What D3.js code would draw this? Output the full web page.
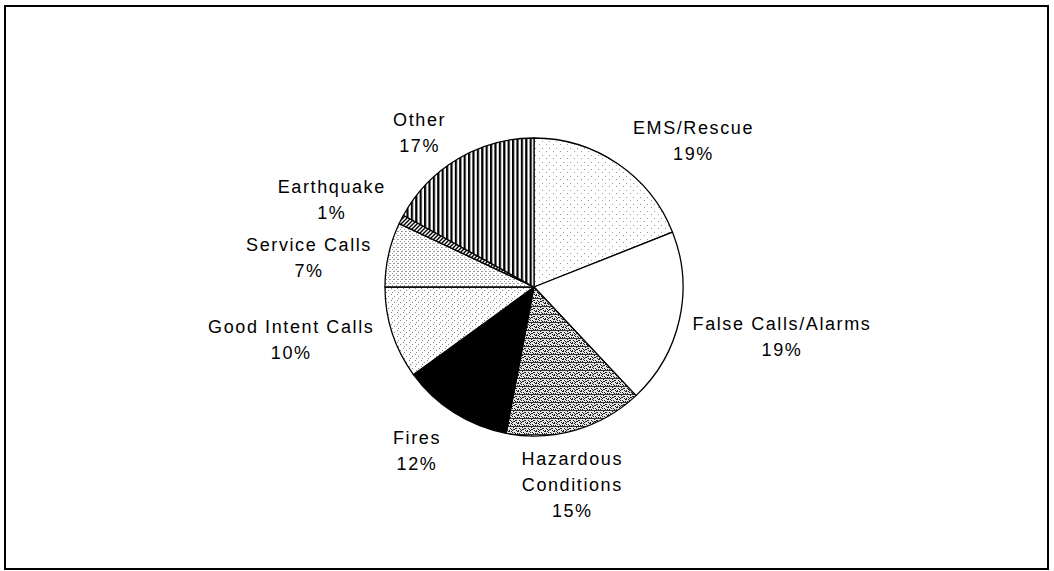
<!DOCTYPE html>
<html>
  <head>
    <meta charset="utf-8">
    <title>Incident types</title>
    <script src="https://cdn.jsdelivr.net/npm/d3@7"></script>
    <style>
      body { margin: 0; background: #fff; }
      text { font-family: "Liberation Sans", Arial, sans-serif; font-size: 18px; fill: #000; }
    </style>
  </head>
  <body>
    <div id="chart"></div>
    <script type="text/javascript">
    // data, clockwise from 12 o'clock
    var categories = ['EMS/Rescue', 'False Calls/Alarms', 'Hazardous Conditions', 'Fires',
                      'Good Intent Calls', 'Service Calls', 'Earthquake', 'Other'];
    var percents = [19, 19, 15, 12, 10, 7, 1, 17];
    var labelLines = [['EMS/Rescue'], ['False Calls/Alarms'], ['Hazardous', 'Conditions'], ['Fires'],
                      ['Good Intent Calls'], ['Service Calls'], ['Earthquake'], ['Other']];

    (function(){
        var W = 1054, H = 571;
        var CX = 534, CY = 287, R = 149;
        var LABEL_R = 209, LINE_H = 26;
        // per-slice label nudge (layout only)
        var nudge = [[42, 26], [44, 4], [-20, -3], [-5, -13], [-44, -12], [-21, 16], [-16, 7], [-8, 25]];
        var fills = ['url(#dotsLight)', '#fff', 'url(#rough)', '#000',
                     'url(#dotsMid)', 'url(#dotsDense)', 'url(#diag)', 'url(#vstripes)'];

        var svg = d3.select('#chart').append('svg')
                    .attr('width', W).attr('height', H);

        var defs = svg.append('defs');

        var dotPattern = function(id, size, pts, color){
            var p = defs.append('pattern').attr('id', id)
                        .attr('patternUnits', 'userSpaceOnUse')
                        .attr('width', size).attr('height', size);
            p.append('rect').attr('width', size).attr('height', size).attr('fill', '#fff');
            pts.forEach(function(d){
                p.append('rect').attr('x', d[0]).attr('y', d[1])
                 .attr('width', 1).attr('height', 1).attr('fill', color);
            });
        };
        dotPattern('dotsLight', 7, [[1, 1], [5, 4]], '#9a9a9a');
        dotPattern('dotsMid', 6, [[1, 1], [4, 3], [2, 5]], '#888');
        dotPattern('dotsDense', 4, [[0, 0], [2, 2], [3, 0]], '#999');

        var rough = defs.append('pattern').attr('id', 'rough')
                        .attr('patternUnits', 'userSpaceOnUse')
                        .attr('width', 9).attr('height', 8);
        rough.append('rect').attr('width', 9).attr('height', 8).attr('fill', '#e4e4e4');
        rough.append('rect').attr('x', 0).attr('y', 3).attr('width', 9).attr('height', 1).attr('fill', '#333');
        [[1, 0], [2, 0], [5, 1], [7, 1], [0, 5], [3, 5], [4, 6], [6, 6], [8, 5], [2, 7], [6, 4],
         [1, 2], [4, 0], [8, 2], [0, 7], [5, 7], [3, 2], [7, 6]].forEach(function(d){
            rough.append('rect').attr('x', d[0]).attr('y', d[1])
                 .attr('width', 1).attr('height', 1).attr('fill', '#1a1a1a');
        });

        var diag = defs.append('pattern').attr('id', 'diag')
                       .attr('patternUnits', 'userSpaceOnUse')
                       .attr('width', 4).attr('height', 4);
        diag.append('rect').attr('width', 4).attr('height', 4).attr('fill', '#fff');
        diag.append('path').attr('d', 'M-1,1 l2,-2 M0,4 l4,-4 M3,5 l2,-2')
            .attr('stroke', '#000').attr('stroke-width', 1.4);

        var vs = defs.append('pattern').attr('id', 'vstripes')
                     .attr('patternUnits', 'userSpaceOnUse')
                     .attr('width', 4.4).attr('height', 4);
        vs.append('rect').attr('width', 4.4).attr('height', 4).attr('fill', '#fff');
        vs.append('rect').attr('x', 0).attr('width', 2.2).attr('height', 4).attr('fill', '#000');

        // frame
        svg.append('rect').attr('x', 5).attr('y', 6).attr('width', 1043).attr('height', 563)
           .attr('fill', 'none').attr('stroke', '#000').attr('stroke-width', 2);

        var data = categories.map(function(c, i){ return {name: c, value: percents[i], lines: labelLines[i], i: i}; });

        var pie = d3.pie().sort(null).value(function(d){ return d.value; });
        var arc = d3.arc().innerRadius(0).outerRadius(R);
        var labelArc = d3.arc().innerRadius(LABEL_R).outerRadius(LABEL_R);

        var g = svg.append('g').attr('transform', 'translate(' + CX + ',' + CY + ')');
        var arcs = pie(data);

        g.selectAll('path.slice')
         .data(arcs)
         .enter()
         .append('path')
         .attr('class', 'slice')
         .attr('d', arc)
         .attr('fill', function(d){ return fills[d.data.i]; })
         .attr('stroke', '#000')
         .attr('stroke-width', 1.3)
         .attr('stroke-linejoin', 'round');

        var labels = g.selectAll('g.label')
                      .data(arcs)
                      .enter()
                      .append('g')
                      .attr('class', 'label')
                      .attr('transform', function(d){
                          var c = labelArc.centroid(d);
                          var n = nudge[d.data.i];
                          return 'translate(' + (c[0] + n[0]) + ',' + (c[1] + n[1]) + ')';
                      });

        labels.each(function(d){
            var rows = d.data.lines.concat([d.data.value + '%']);
            var top = -(rows.length - 1) * LINE_H / 2;
            var sel = d3.select(this);
            rows.forEach(function(t, k){
                sel.append('text')
                   .attr('text-anchor', 'middle')
                   .attr('y', top + k * LINE_H + 6.5)
                   .attr('letter-spacing', '1.6px')
                   .text(t);
            });
        });
    })();
    </script>
  </body>
</html>
